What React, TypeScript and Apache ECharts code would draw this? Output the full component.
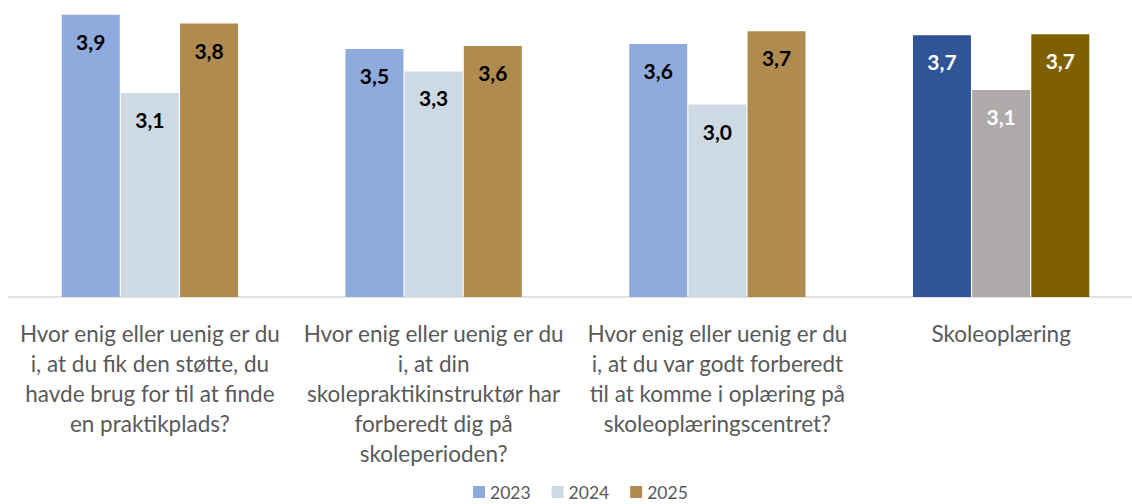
import React, { useEffect, useRef } from "react";
import * as echarts from "echarts";

const categories = [
  "Hvor enig eller uenig er du\ni, at du fik den støtte, du\nhavde brug for til at finde\nen praktikplads?",
  "Hvor enig eller uenig er du\ni, at din\nskolepraktikinstruktør har\nforberedt dig på\nskoleperioden?",
  "Hvor enig eller uenig er du\ni, at du var godt forberedt\ntil at komme i oplæring på\nskoleoplæringscentret?",
  "Skoleoplæring",
];
const seriesNames = ["2023", "2024", "2025"];
const values2023 = [3.89, 3.54, 3.59, 3.68];
const values2024 = [3.09, 3.31, 2.97, 3.12];
const values2025 = [3.8, 3.57, 3.72, 3.69];
const baseColors = ["#8FAADC", "#CDD9E3", "#B08B4F"];
const highlightColors = ["#2F5597", "#AEAAAA", "#7F6000"];
const highlightIndex = 3;

const FONT = "Lato";

export default function App() {
  const ref = useRef<HTMLDivElement>(null);
  useEffect(() => {
    if (!ref.current) return;
    const chart = echarts.init(ref.current, undefined, { renderer: "svg" });
    const all = [values2023, values2024, values2025];
    const series = all.map((vals, si) => ({
      name: seriesNames[si],
      type: "bar",
      barWidth: 58,
      barGap: "2%",
      itemStyle: { color: baseColors[si] },
      label: {
        show: true,
        position: "insideTop",
        distance: 16,
        fontFamily: FONT,
        fontWeight: "bold",
        fontSize: 21,
        color: "#000000",
        formatter: (p: any) => Number(p.value).toFixed(1).replace(".", ","),
      },
      data: vals.map((v, i) =>
        i === highlightIndex
          ? {
              value: v,
              itemStyle: { color: highlightColors[si] },
              label: { color: "#FFFFFF" },
            }
          : v
      ),
    }));
    chart.setOption({
      animation: false,
      textStyle: { fontFamily: FONT },
      grid: { left: 8, top: 4, width: 1135, bottom: 207, containLabel: false },
      legend: {
        top: 481,
        left: 473,
        icon: "rect",
        itemWidth: 12,
        itemHeight: 12,
        itemGap: 21,
        padding: 0,
        textStyle: { fontFamily: FONT, fontSize: 17.5, color: "#595959", lineHeight: 22 },
        data: seriesNames,
      },
      xAxis: {
        type: "category",
        data: categories,
        axisLine: { lineStyle: { color: "#D9D9D9", width: 1.5 } },
        axisTick: { show: false },
        axisLabel: {
          interval: 0,
          margin: 21,
          fontFamily: FONT,
          fontSize: 22.5,
          lineHeight: 30,
          color: "#595959",
          align: "center",
        },
      },
      yAxis: {
        type: "value",
        min: 1,
        max: 4,
        show: false,
        splitLine: { show: false },
      },
      series,
    });
    return () => chart.dispose();
  }, []);
  return (
    <div
      style={{
        position: "absolute",
        left: 0,
        top: 0,
        width: 1132,
        height: 504,
        overflow: "hidden",
      }}
    >
      <div ref={ref} style={{ width: 1160, height: 504 }} />
    </div>
  );
}
